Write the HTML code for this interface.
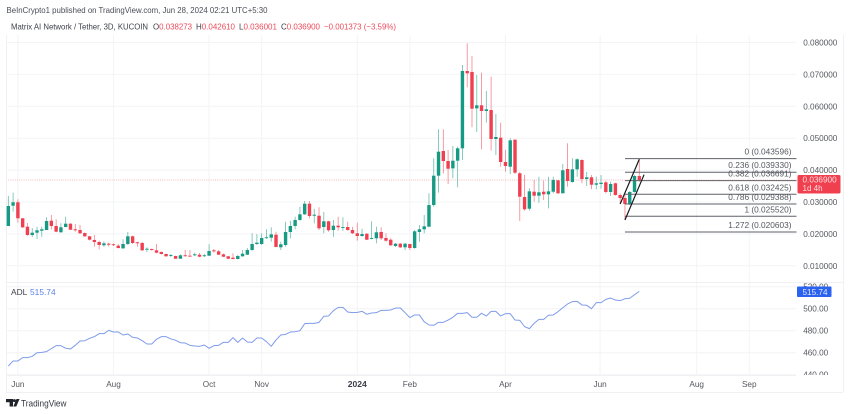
<!DOCTYPE html>
<html lang="en">
<head>
<meta charset="utf-8">
<title>Matrix AI Network / Tether chart</title>
<style>
html,body{margin:0;padding:0;background:#fff;width:850px;height:414px;overflow:hidden}
svg{display:block;font-family:"Liberation Sans",sans-serif;filter:blur(0.35px)}
</style>
</head>
<body>
<svg id="chart" xmlns="http://www.w3.org/2000/svg" width="850" height="414" viewBox="0 0 850 414">
  <defs>
    <clipPath id="adl-axis-clip"><rect x="796" y="282" width="48" height="93"/></clipPath>
  </defs>
  <rect x="0" y="0" width="850" height="414" fill="#ffffff"/>
  <g id="grid"></g>
  <g stroke="#f0f1f3" stroke-width="1" fill="none">
    <line x1="6" x2="843" y1="282.5" y2="282.5"/>
    <line x1="6" x2="796" y1="375.5" y2="375.5"/>
    <line x1="6" x2="843" y1="392.5" y2="392.5"/>
    <line x1="6.5" x2="6.5" y1="35" y2="392"/>
    <line x1="843.5" x2="843.5" y1="35" y2="392"/>
  </g>
  <text x="6.5" y="13" font-size="8.4" fill="#4a4d57" textLength="261" lengthAdjust="spacingAndGlyphs">BeInCrypto1 published on TradingView.com, Jun 28, 2024 02:21 UTC+5:30</text>
  <text x="11" y="29.5" font-size="8.4" fill="#3c3f4a" textLength="137" lengthAdjust="spacingAndGlyphs">Matrix AI Network / Tether, 3D, KUCOIN</text>
  <g font-size="8.4">
    <text x="153" y="29.5" fill="#3c3f4a" textLength="39" lengthAdjust="spacingAndGlyphs">O<tspan fill="#ee4a5a">0.038273</tspan></text>
    <text x="196" y="29.5" fill="#3c3f4a" textLength="39" lengthAdjust="spacingAndGlyphs">H<tspan fill="#ee4a5a">0.042610</tspan></text>
    <text x="239" y="29.5" fill="#3c3f4a" textLength="38" lengthAdjust="spacingAndGlyphs">L<tspan fill="#ee4a5a">0.036001</tspan></text>
    <text x="281" y="29.5" fill="#3c3f4a" textLength="39" lengthAdjust="spacingAndGlyphs">C<tspan fill="#ee4a5a">0.036900</tspan></text>
    <text x="324" y="29.5" fill="#ee4a5a" textLength="72" lengthAdjust="spacingAndGlyphs">−0.001373 (−3.59%)</text>
  </g>
  <g id="candles"></g>
  <g id="fib"></g>
  <g id="channel"></g>
  <g id="price-axis"></g>
  <g>
    <rect x="797.5" y="175" width="43" height="18.5" rx="1.5" fill="#f0404f"/>
    <text x="802.5" y="182.5" font-size="8.2" fill="#ffdfe2">0.036900</text>
    <text x="802.5" y="191" font-size="8" fill="#ffdfe2">1d 4h</text>
  </g>
  <g id="adl-axis"></g>
  <path id="adl-line" fill="none" stroke="#7f9ceb" stroke-width="1" stroke-linejoin="round"/>
  <text x="11" y="295" font-size="8.4" fill="#3c3f4a">ADL</text>
  <text x="30" y="295" font-size="8.4" fill="#5b82ee">515.74</text>
  <g>
    <rect x="797" y="286.5" width="34.5" height="10.5" rx="1" fill="#2b63f0"/>
    <text x="802.5" y="294.8" font-size="8.2" fill="#e3eaff">515.74</text>
  </g>
  <g id="time-axis"></g>
  <g fill="#1f2229">
    <path d="M6 399h7v7.5h-3.4v-4.2H6zM16.5 399h3l-3.2 7.5h-3z"/>
    <circle cx="14.4" cy="400.6" r="1.5"/>
    <text x="21" y="406.6" font-size="9.4" fill="#33363f" textLength="45.5" lengthAdjust="spacingAndGlyphs">TradingView</text>
  </g>
</svg>
<script>
// Prices are in thousandths of a USDT (28.75 = 0.02875).
const opens = [
22.48,28.84,29.91,24.89,22.26,19.65,20.38,21.0,21.22,24.14,
22.48,20.5,22.16,23.2,21.44,21.22,20.28,19.25,18.09,17.46,
16.43,16.93,16.74,16.3,15.48,16.83,19.25,17.37,17.15,15.05,
15.27,14.86,14.33,13.7,13.17,13.07,12.22,13.29,13.17,13.29,
13.48,13.07,13.17,14.86,14.54,13.6,12.98,12.54,12.13,12.98,
13.48,14.95,16.83,16.83,18.71,18.81,19.75,15.8,16.52,20.6,
22.48,24.36,26.14,29.47,25.7,25.7,22.16,23.95,21.22,22.57,
21.94,22.16,21.22,20.19,19.34,20.06,18.49,18.62,20.6,18.71,
18.18,16.21,16.93,15.8,16.83,15.58,20.6,21.44,22.26,29.06,
38.25,45.99,42.85,40.56,42.95,46.83,71.07,70.76,59.37,60.32,
58.53,58.84,49.75,50.16,42.54,41.07,49.53,39.0,31.57,27.9,
33.23,31.98,33.23,32.41,33.23,36.8,32.73,40.35,36.27,40.25,
43.17,37.21,37.74,35.42,35.64,36.18,33.14,35.86,32.19,31.25,
29.37,33.14,38.15];
const highs = [
31.88,32.92,30.85,24.98,23.42,21.85,22.26,22.26,25.2,25.92,
24.58,23.32,25.39,23.32,23.1,22.79,20.44,19.34,19.65,17.87,
17.68,17.24,16.99,16.83,18.31,20.6,19.43,17.55,17.46,15.8,
15.42,16.83,14.48,13.85,13.7,13.17,13.6,14.95,14.95,14.11,
14.01,13.7,16.74,15.27,14.95,13.85,13.07,13.92,13.38,14.95,
15.58,20.19,19.97,20.19,21.44,22.07,20.69,17.55,23.82,24.14,
25.39,28.53,30.31,30.31,27.9,28.34,26.87,24.14,24.36,25.39,
25.2,23.82,22.26,23.51,21.63,20.19,23.95,22.26,22.07,20.19,
18.62,17.15,17.15,17.15,16.93,21.22,22.79,25.92,32.73,43.7,
52.79,52.79,46.3,47.56,47.34,72.95,79.75,75.77,69.81,70.54,
64.8,69.28,57.59,54.86,46.3,49.97,49.66,39.5,38.46,34.3,
36.9,37.93,36.68,37.93,37.93,36.9,41.91,48.4,43.7,43.7,
43.39,39.41,38.46,37.93,38.46,36.68,36.36,36.05,32.73,32.19,
33.45,38.46,43.39];
const lows = [
22.48,26.96,23.51,21.85,19.43,19.03,18.40,19.12,21.22,21.44,
20.5,20.38,22.07,21.22,20.69,19.97,19.03,17.93,15.99,15.17,
15.99,15.99,16.21,15.42,15.27,16.52,16.83,15.99,14.64,14.32,
14.8,13.92,13.54,12.85,12.76,12.13,12.13,12.85,12.85,13.07,
12.66,12.76,13.07,14.11,13.38,12.76,12.13,12.04,12.04,12.85,
13.38,14.73,16.52,16.52,18.49,17.55,15.8,14.95,15.99,18.62,
21.44,24.14,25.92,24.89,23.32,21.22,20.19,20.69,19.12,21.0,
21.0,21.0,19.97,17.87,19.12,18.09,18.31,17.05,18.09,17.55,
16.21,15.89,15.58,14.95,14.95,15.36,17.55,20.19,22.07,28.53,
32.92,39.0,35.64,37.43,34.61,43.17,65.96,53.42,51.95,46.52,
54.86,46.08,44.73,41.07,39.5,38.78,38.78,24.04,27.27,27.27,
30.09,29.78,30.63,28.02,32.73,32.51,32.73,34.8,36.05,37.93,
35.86,35.02,33.98,33.98,34.17,32.73,31.88,31.98,29.78,24.36,
29.06,32.92,36.36];
const closes = [
28.75,29.91,24.89,22.07,19.65,20.38,21.13,21.44,24.04,22.48,
20.69,22.07,23.2,21.32,21.13,20.19,19.25,18.18,17.46,16.52,
17.05,16.61,16.52,15.58,16.83,19.25,17.15,17.05,14.86,15.36,
14.95,14.11,13.7,12.98,13.38,12.22,13.29,13.07,13.07,13.6,
12.85,13.29,14.64,14.54,13.48,12.85,12.22,12.13,13.07,13.79,
14.95,16.83,17.24,18.71,18.93,19.87,15.89,16.74,20.6,22.48,
24.36,26.14,29.47,25.61,26.02,21.75,23.95,21.13,22.57,22.07,
22.16,21.22,20.19,19.34,19.97,18.18,18.71,20.5,18.62,17.87,
16.43,16.93,15.8,16.93,15.58,20.81,21.44,22.38,29.06,38.25,
45.77,42.85,40.44,42.95,46.83,71.07,70.35,59.25,60.32,58.53,
59.06,49.75,50.38,42.54,41.29,49.34,39.19,31.66,27.71,33.35,
31.98,33.04,32.41,33.35,36.9,32.73,39.94,36.58,40.25,43.39,
37.21,37.74,35.42,35.86,36.05,33.14,35.64,32.19,31.25,29.37,
33.14,38.15,36.9];
const adlValues = [
447.9,452.5,452.5,455.5,455.5,456.7,460.0,460.3,461.0,463.7,
466.4,466.4,464.0,463.4,466.7,470.6,470.9,473.1,474.6,477.3,
477.3,480.3,478.8,478.8,476.1,477.0,474.0,473.4,470.9,467.9,
467.9,472.2,474.6,474.6,472.5,471.3,469.1,468.8,466.7,466.1,
465.8,467.0,464.0,466.4,466.7,469.4,469.4,473.7,469.4,473.4,
469.7,469.4,473.4,473.4,470.0,465.8,471.6,476.1,476.7,478.8,
479.1,480.0,486.4,486.7,486.7,487.6,493.1,493.4,498.2,501.2,
501.2,497.0,496.4,496.7,497.6,494.9,496.1,496.4,498.5,498.5,
498.8,500.6,500.6,496.4,491.9,494.3,494.3,488.2,485.2,484.9,
487.6,487.6,489.7,492.2,495.8,495.8,496.4,492.2,492.2,495.8,
493.4,497.6,497.6,493.4,495.5,495.5,489.7,489.4,483.7,481.9,
486.7,490.3,490.3,494.0,494.3,497.3,500.9,504.3,506.4,506.7,
503.4,503.1,500.0,505.5,505.5,508.5,509.7,507.9,507.3,509.1,
509.5,512.7,515.74];
const priceTickValues = [80,70,60,50,40,30,20,10];
const priceTickLabels = ["0.080000","0.070000","0.060000","0.050000","0.040000","0.030000","0.020000","0.010000"];
const adlTickValues = [520,500,480,460,440];
const adlTickLabels = ["520.00","500.00","480.00","460.00","440.00"];
const timeTickBars = [2,22,42,53,73,84,104,123.8,144,155];
const timeTickLabels = ["Jun","Aug","Oct","Nov","2024","Feb","Apr","Jun","Aug","Sep"];
const fibRatios = ["0","0.236","0.382","0.618","0.786","1","1.272"];
const fibPrices = [43.596,39.33,36.691,32.425,29.388,25.52,20.603];
const fibPriceLabels = ["0.043596","0.039330","0.036691","0.032425","0.029388","0.025520","0.020603"];
const channelStartBars = [128,129];
const channelEndBars = [132,133];
const channelStartPrices = [29.37,24.36];
const channelEndPrices = [43.39,38.56];
const lastPrice = 36.9;

const NS = 'http://www.w3.org/2000/svg';
function barX(i){ return 8.33 + 4.78 * i; }
function priceY(v){ return 202 - (v - 30) / 0.3135; }
function adlY(v){ return 308.7 + (500 - v) * 1.1; }
function make(parent, tag, props){
  const el = document.createElementNS(NS, tag);
  for (const k in props) el.setAttribute(k, props[k]);
  parent.appendChild(el);
  return el;
}

const grid = document.getElementById('grid');
timeTickBars.forEach(function(b){
  const el = make(grid, 'line', {x1:barX(b), x2:barX(b), y1:35, y2:375, stroke:'#f3f4f6', 'stroke-width':1});
  
  
});
priceTickValues.forEach(function(v){
  const el = make(grid, 'line', {x1:6, x2:796, y1:priceY(v), y2:priceY(v), stroke:'#f3f4f6', 'stroke-width':1});
  
  
});
adlTickValues.forEach(function(v){
  const el = make(grid, 'line', {x1:6, x2:796, y1:adlY(v), y2:adlY(v), stroke:'#f3f4f6', 'stroke-width':1});
  
  
});
const lastLine = make(grid, 'line', {x1:6, x2:797, y1:priceY(lastPrice), y2:priceY(lastPrice), stroke:'#f3a3aa', 'stroke-width':0.8, 'stroke-dasharray':'1 1.2'});



const candles = document.getElementById('candles');
opens.forEach(function(o, i){
  const c = closes[i];
  const col = c >= o ? '#169a83' : '#ef3f50';
  const wick = make(candles, 'line', {x1:barX(i), x2:barX(i), y1:priceY(highs[i]), y2:priceY(lows[i]), stroke:col, 'stroke-width':0.8, 'stroke-opacity':0.65});
  
  
  const top = priceY(Math.max(o, c));
  const h = Math.max(priceY(Math.min(o, c)) - top, 0.9);
  const body = make(candles, 'rect', {x:barX(i) - 1.7, y:top, width:3.4, height:h, fill:col});
  
  
});

const fib = document.getElementById('fib');
fibPrices.forEach(function(p, i){
  const l = make(fib, 'line', {x1:625, x2:796.5, y1:priceY(p), y2:priceY(p), stroke:'#5f6168', 'stroke-width':1});
  
  
  const t = make(fib, 'text', {x:791.5, y:priceY(p) - 4, 'font-size':8.3, fill:'#55585f', 'text-anchor':'end'});
  
  
  t.textContent = fibRatios[i] + ' (' + fibPriceLabels[i] + ')';
});

const channel = document.getElementById('channel');
channelStartBars.forEach(function(b, i){
  const l = make(channel, 'line', {x1:barX(b), x2:barX(channelEndBars[i]), y1:priceY(channelStartPrices[i]), y2:priceY(channelEndPrices[i]), stroke:'#16181d', 'stroke-width':1.2});
  
  
});

const priceAxis = document.getElementById('price-axis');
priceTickValues.forEach(function(v, i){
  const t = make(priceAxis, 'text', {x:803.2, y:priceY(v) + 3, 'font-size':8.2, fill:'#55585f'});
  
  
  t.textContent = priceTickLabels[i];
});

const adlAxis = document.getElementById('adl-axis');
adlAxis.setAttribute('clip-path', 'url(#adl-axis-clip)');
adlTickValues.forEach(function(v, i){
  const t = make(adlAxis, 'text', {x:803.2, y:adlY(v) + 3, 'font-size':8.2, fill:'#55585f'});
  
  
  t.textContent = adlTickLabels[i];
});

document.getElementById('adl-line').setAttribute('d', adlValues.map(function(v, i){
  return (i ? 'L' : 'M') + barX(i).toFixed(2) + ' ' + adlY(v).toFixed(2);
}).join(''));

const timeAxis = document.getElementById('time-axis');
timeTickBars.forEach(function(b, i){
  const bold = timeTickLabels[i] === '2024';
  const t = make(timeAxis, 'text', {x:barX(b), y:387, 'font-size':bold ? 8.6 : 8.2, 'font-weight':bold ? 'bold' : 'normal', fill:bold ? '#3c3f4a' : '#55585f', 'text-anchor':'middle'});
  
  
  t.textContent = timeTickLabels[i];
});
</script>
</body>
</html>
